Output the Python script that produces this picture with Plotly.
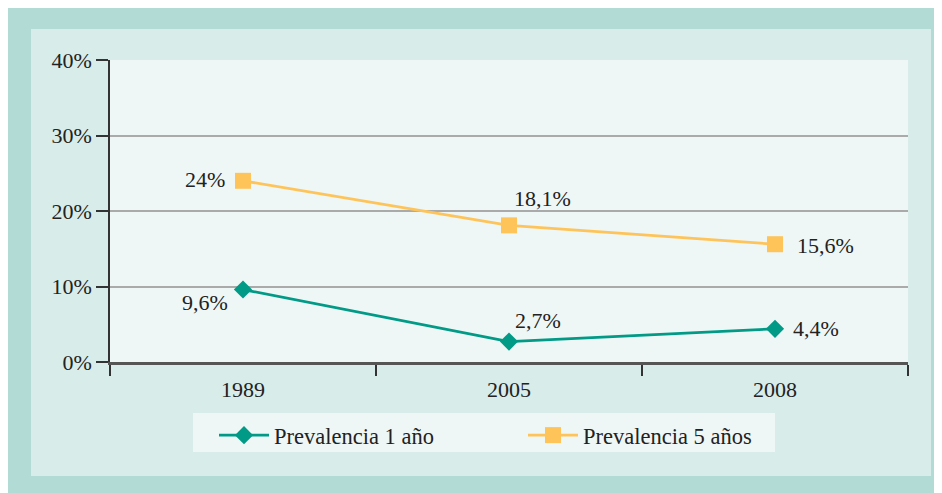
import plotly.graph_objects as go

years = ["1989", "2005", "2008"]
prev_1 = [9.6, 2.7, 4.4]
prev_5 = [24.0, 18.1, 15.6]
labels_1 = ["9,6%", "2,7%", "4,4%"]
labels_5 = ["24%", "18,1%", "15,6%"]
y_ticks = [0, 10, 20, 30, 40]
y_ticklabels = ["0%", "10%", "20%", "30%", "40%"]

W, H = 942, 493
L, R, T, B = 102, 900, 52, 354
pw, ph = R - L, B - T

def px(x):
    return (x - L) / pw

def py(y):
    return (B - y) / ph

FONT = "Liberation Serif"
TEAL = "#009a86"
YELLOW = "#fec45a"
TXT = "#222222"

fig = go.Figure()
fig.add_trace(go.Scatter(
    x=years, y=prev_1, name="Prevalencia 1 año", mode="lines+markers",
    line=dict(color=TEAL, width=2.8),
    marker=dict(symbol="diamond", size=14, color=TEAL),
    cliponaxis=False,
))
fig.add_trace(go.Scatter(
    x=years, y=prev_5, name="Prevalencia 5 años", mode="lines+markers",
    line=dict(color=YELLOW, width=2.8),
    marker=dict(symbol="square", size=16, color=YELLOW),
    cliponaxis=False,
))

# label placement offsets (px) relative to each point
off_1 = [("right", -13, -13), ("left", 4, 21), ("left", 16, 0)]
off_5 = [("right", -16, 1), ("left", 3, 27), ("left", 20, -1)]

for ys, labs, offs in [(prev_1, labels_1, off_1), (prev_5, labels_5, off_5)]:
    for i, (yv, lab, o) in enumerate(zip(ys, labs, offs)):
        fig.add_annotation(x=i, y=yv, xref="x", yref="y", text=lab,
                           showarrow=False, xanchor=o[0], yanchor="middle",
                           xshift=o[1], yshift=o[2],
                           font=dict(family=FONT, size=22, color=TXT))

shapes = [
    dict(type="rect", xref="paper", yref="paper", layer="below",
         x0=px(23), x1=px(923), y0=py(21), y1=py(468),
         fillcolor="#d8ece9", line=dict(width=0)),
    dict(type="rect", xref="paper", yref="paper", layer="below",
         x0=0, x1=1, y0=0, y1=1,
         fillcolor="#eef7f6", line=dict(width=0)),
    dict(type="rect", xref="paper", yref="paper", layer="below",
         x0=px(185), x1=px(767), y0=py(405), y1=py(444),
         fillcolor="#eef7f6", line=dict(width=0)),
]

fig.update_layout(
    width=W, height=H,
    margin=dict(l=L, r=W - R, t=T, b=H - B),
    paper_bgcolor="#b3dbd6",
    plot_bgcolor="#eef7f6",
    shapes=shapes,
    font=dict(family=FONT, size=22, color=TXT),
    showlegend=True,
    legend=dict(
        orientation="h", x=px(206), xanchor="left", y=py(406), yanchor="top",
        bgcolor="rgba(0,0,0,0)", font=dict(family=FONT, size=22.5, color=TXT),
        entrywidth=244, entrywidthmode="pixels", itemwidth=50,
    ),
    xaxis=dict(
        type="category", range=[-0.5, 2.5], tickson="boundaries",
        ticks="outside", ticklen=11, tickwidth=1.5, tickcolor="#333",
        showline=True, linecolor="#555", linewidth=2.5,
        showgrid=False, zeroline=False, ticklabelstandoff=6,
        tickfont=dict(family=FONT, size=22, color=TXT),
    ),
    yaxis=dict(
        range=[0, 40], tickvals=y_ticks, ticktext=y_ticklabels,
        ticks="outside", ticklen=12, tickwidth=1.5, tickcolor="#333",
        showline=True, linecolor="#333", linewidth=1.5,
        showgrid=True, gridcolor="#aaaaaa", gridwidth=1.5,
        zeroline=False,
        tickfont=dict(family=FONT, size=22, color=TXT),
    ),
)

fig.write_html("out.html")
